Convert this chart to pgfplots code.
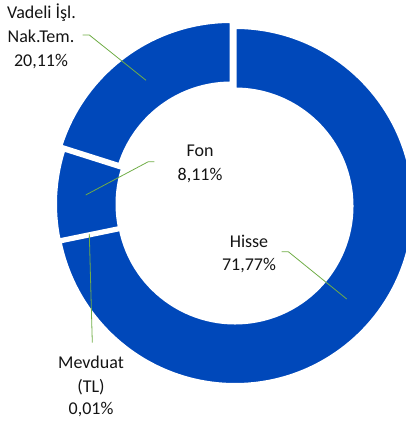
\documentclass[border=0pt]{standalone}
\usepackage{pgfplots}
\pgfplotsset{compat=1.18}
\usepackage{fontspec}
\setmainfont{Carlito}
\definecolor{donut}{RGB}{0,72,186}
\definecolor{leader}{RGB}{112,173,71}
\definecolor{txt}{RGB}{20,20,20}
% data (percent)
\def\pHisse{71.77}
\def\pMevduat{0.01}
\def\pFon{8.11}
\def\pVadeli{20.11}
% cumulative angles, clockwise from 12 o'clock
\pgfmathsetmacro\aA{90}
\pgfmathsetmacro\aB{\aA-3.6*\pHisse}
\pgfmathsetmacro\aC{\aB-3.6*\pMevduat}
\pgfmathsetmacro\aD{\aC-3.6*\pFon}
\pgfmathsetmacro\aE{\aD-3.6*\pVadeli}
% geometry (axis units = pt)
\def\cx{233}\def\cy{221}
\def\Ro{178.5}\def\Ri{117}
% #1 start angle, #2 end angle, #3 dx, #4 dy
\newcommand\slice[4]{%
  \fill[donut,draw=white,line width=3pt,line join=miter]
    (axis cs:{\cx+#3+\Ro*cos(#1)},{\cy+#4+\Ro*sin(#1)})
    arc[start angle=#1,end angle=#2,radius=\Ro pt]
    -- (axis cs:{\cx+#3+\Ri*cos(#2)},{\cy+#4+\Ri*sin(#2)})
    arc[start angle=#2,end angle=#1,radius=\Ri pt] -- cycle;}
\begin{document}
\begin{tikzpicture}
\useasboundingbox (0,0) rectangle (406pt,425pt);
\begin{axis}[
  at={(0,0)}, anchor=south west,
  scale only axis, width=406pt, height=425pt,
  xmin=0, xmax=406, ymin=0, ymax=425,
  hide axis, clip=true,
]
\slice{\aA}{\aB}{2}{-2}
\slice{\aB}{\aC}{0}{0}
\slice{\aC}{\aD}{1}{0}
\slice{\aD}{\aE}{-2}{4}
% leader lines
\addplot[leader, line width=0.8pt] coordinates {(82.7,390) (89.3,390) (146,344.7)};
\addplot[leader, line width=0.8pt] coordinates {(154.3,263.3) (148.3,263.3) (85.7,230)};
\addplot[leader, line width=0.8pt] coordinates {(281.7,173.3) (288.3,173.3) (346.7,126)};
\addplot[leader, line width=0.8pt] coordinates {(89.3,191) (92.3,82.3)};
% labels
\tikzset{lab/.style={anchor=base, inner sep=0pt, text=txt, font=\fontsize{18}{22}\selectfont}}
\node[lab] at (axis cs:41.5,406) {Vadeli İşl.};
\node[lab] at (axis cs:41,382) {Nak.Tem.};
\node[lab] at (axis cs:41,358) {20,11\%};
\node[lab] at (axis cs:200,268.3) {Fon};
\node[lab] at (axis cs:200,244.3) {8,11\%};
\node[lab] at (axis cs:249,177.7) {Hisse};
\node[lab] at (axis cs:249,154.3) {71,77\%};
\node[lab] at (axis cs:91,56) {Mevduat};
\node[lab] at (axis cs:91,32) {(TL)};
\node[lab] at (axis cs:91,10) {0,01\%};
\end{axis}
\end{tikzpicture}
\end{document}
